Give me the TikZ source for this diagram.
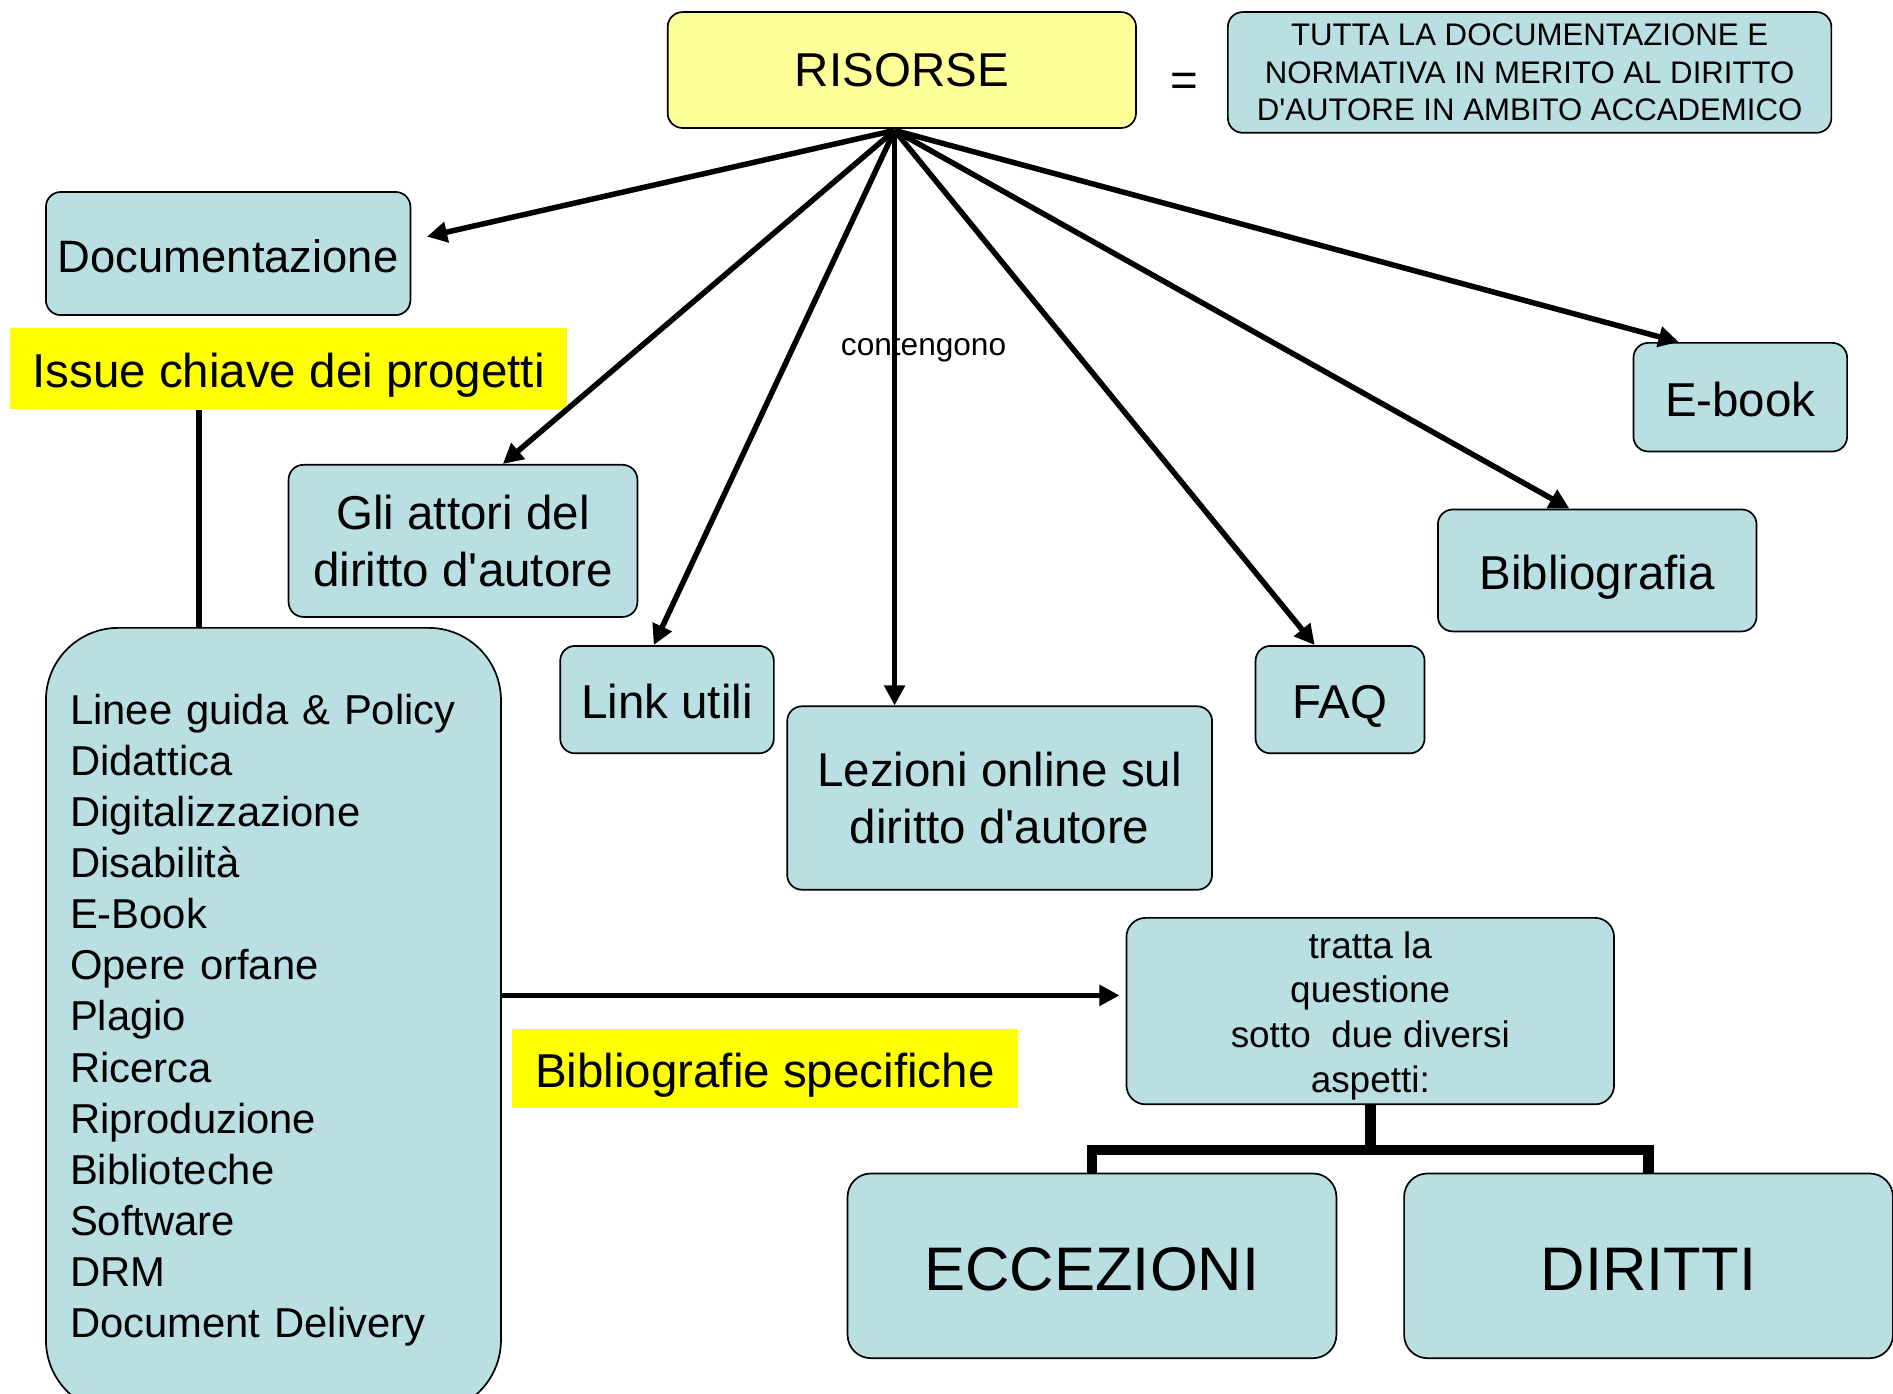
\documentclass[tikz,border=0pt]{standalone}
\usepackage{fontspec}
\setmainfont{Liberation Sans}
\usetikzlibrary{arrows.meta,calc,positioning}
\definecolor{azzurro}{RGB}{186,223,227}
\definecolor{giallino}{RGB}{255,255,153}
\definecolor{giallo}{RGB}{255,255,0}
\tikzset{
voce/.style={rectangle,rounded corners=7pt,
draw=black,line width=0.8pt,fill=azzurro,
align=center,inner sep=2pt,font=\fontsize{22.4}{27}\selectfont},
riga/.style={text height=21.3pt,text depth=3.4pt},
rigagrande/.style={text height=27.5pt,text depth=4.4pt},
etichetta/.style={rectangle,fill=giallo,inner sep=2pt,riga,
font=\fontsize{22.4}{27}\selectfont},
freccia/.style={line width=2.6pt,-{Triangle[length=9.5pt,width=9.5pt]}},
ramo/.style={line width=5pt}
}
\begin{document}
\begin{tikzpicture}[x=0.02cm,y=-0.02cm]
\useasboundingbox (0,0) rectangle (1568,1154);

\node[voce,fill=giallino,minimum width=7.76cm,minimum height=1.92cm] (risorse) at (747,58) {RISORSE};
\node[font=\fontsize{22.4}{27}\selectfont] (uguale) at (981,70) {=};
\node[voce,minimum width=10cm,minimum height=2cm,font=\fontsize{14.7}{17.6}\selectfont] (tutta) at (1267,60)
{TUTTA LA DOCUMENTAZIONE E\\NORMATIVA IN MERITO AL DIRITTO\\D\textquotesingle AUTORE IN AMBITO ACCADEMICO};

\node[voce,riga,minimum width=6.04cm,minimum height=2.04cm,font=\fontsize{21.4}{26}\selectfont] (docu) at (189,210) {Documentazione};
\node[etichetta,minimum width=9.24cm,minimum height=1.34cm] (issue) at (239,305.5) {Issue chiave dei progetti};
\node[voce,minimum width=5.78cm,minimum height=2.52cm] (attori) at (383.5,448) {Gli attori del\\diritto d\textquotesingle autore};
\node[voce,riga,minimum width=3.54cm,minimum height=1.78cm] (link) at (552.5,579.5) {Link utili};
\node[voce,minimum width=7.04cm,minimum height=3.04cm] (lezioni) at (828,661) {Lezioni online sul\\diritto d\textquotesingle autore};
\node[voce,riga,minimum width=2.8cm,minimum height=1.78cm] (faq) at (1110,579.5) {FAQ};
\node[voce,riga,minimum width=5.28cm,minimum height=2.02cm] (biblio) at (1323,472.5) {Bibliografia};
\node[voce,riga,minimum width=3.54cm,minimum height=1.8cm] (ebook) at (1441.5,329) {E-book};

\node[voce,rounded corners=1.2cm,minimum height=13cm,text width=6.74cm,align=left,inner xsep=0.4cm,
font=\fontsize{19.7}{24.1}\selectfont] (elenco) at (226.5,845)
{Linee guida \& Policy\\Didattica\\Digitalizzazione\\Disabilità\\E-Book\\Opere orfane\\Plagio\\Ricerca\\Riproduzione\\Biblioteche\\Software\\DRM\\Document Delivery};

\node[etichetta,minimum width=8.38cm,minimum height=1.32cm] (bibspec) at (633.5,885) {Bibliografie specifiche};
\node[voce,rounded corners=9pt,minimum width=8.08cm,minimum height=3.06cm,font=\fontsize{17.4}{21.1}\selectfont] (tratta) at (1135,837.5)
{\rule{0pt}{17pt}tratta la\\questione\\sotto\ \ due diversi\\aspetti:};
\node[voce,rigagrande,rounded corners=11pt,minimum width=8.1cm,minimum height=3.06cm,font=\fontsize{29}{34}\selectfont] (eccezioni) at (904.5,1048.5) {ECCEZIONI};
\node[voce,rigagrande,rounded corners=11pt,minimum width=8.1cm,minimum height=3.06cm,font=\fontsize{29}{34}\selectfont] (diritti) at (1365.5,1048.5) {DIRITTI};

\coordinate (perno) at (741,108);
\draw[freccia] (perno) -- ($(docu.east)+(13,-14)$);
\draw[freccia] (perno) -- ($(attori.north)+(33,0)$);
\draw[freccia] (perno) -- ($(link.north)+(-11,0)$);
\draw[freccia] (perno) -- (perno |- lezioni.north);
\draw[freccia] (perno) -- ($(faq.north)+(-21,0)$);
\draw[freccia] (perno) -- ($(biblio.north)+(-23,0)$);
\draw[freccia] (perno) -- ($(ebook.north)+(-51,0)$);
\node[font=\fontsize{14.9}{18}\selectfont] (contengono) at (765,289) {contengono};

\coordinate (piede) at ($(issue.south west)+(157,0)$);
\draw[line width=2.6pt] (piede) -- (piede |- elenco.north);
\coordinate (arrivo) at ($(tratta.west)+(-5,-13)$);
\draw[freccia] (arrivo -| elenco.east) -- (arrivo);

\draw[ramo] (tratta.south) -- ++(0,37) -| (eccezioni.north);
\draw[ramo] (tratta.south) -- ++(0,37) -| (diritti.north);

\end{tikzpicture}
\end{document}
